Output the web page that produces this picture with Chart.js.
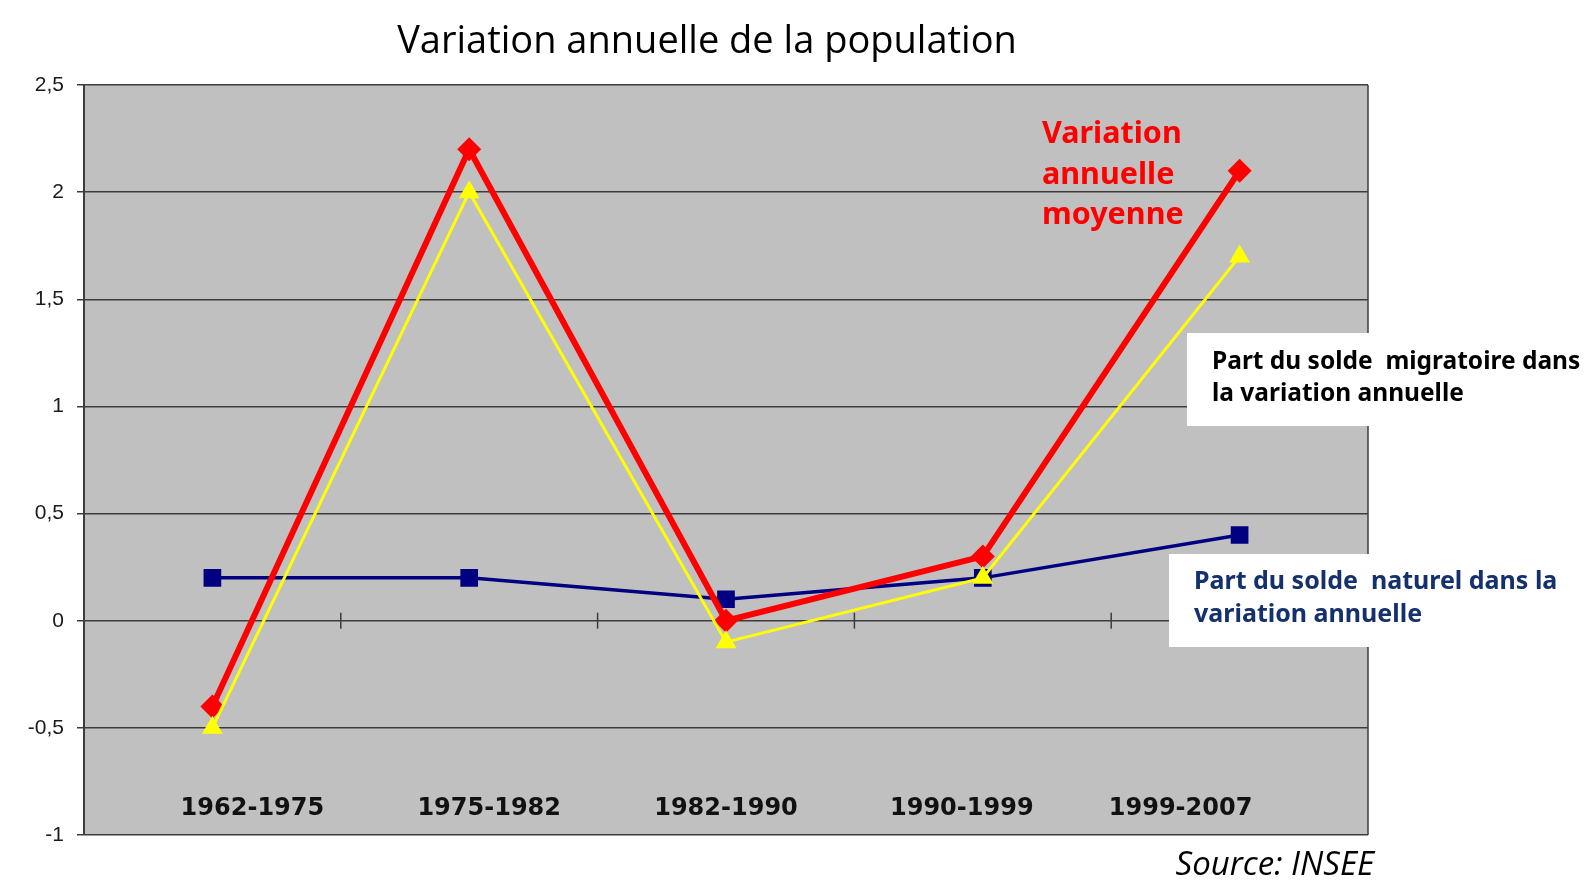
<!DOCTYPE html>
<html>
<head>
<meta charset="utf-8">
<script src="https://cdn.jsdelivr.net/npm/chart.js@4.4.0/dist/chart.umd.min.js"></script>
<style>
    body { margin: 0; background: #fff; }
    canvas { display: block; }
</style>
</head>
<body>
<canvas id="popChart" width="1584" height="882"></canvas>
<script>
// Data
const periods = ['1962-1975', '1975-1982', '1982-1990', '1990-1999', '1999-2007'];
const variationMoyenne = [-0.4, 2.2, 0, 0.3, 2.1];
const soldeMigratoire = [-0.5, 2.0, -0.1, 0.2, 1.7];
const soldeNaturel = [0.2, 0.2, 0.1, 0.2, 0.4];
const yTickValues = [-1, -0.5, 0, 0.5, 1, 1.5, 2, 2.5];

// the period labels sit a bit off the points in the original
const labelShift = [40, 20, 0, -21, -59];

const decorPlugin = {
    id: 'decor',
    beforeDraw(chart) {
        const { ctx, chartArea } = chart;
        ctx.save();
        ctx.fillStyle = '#c0c0c0';
        ctx.fillRect(chartArea.left, chartArea.top, chartArea.right - chartArea.left, chartArea.bottom - chartArea.top);
        ctx.restore();
    },
    beforeDatasetsDraw(chart) {
        const { ctx, chartArea, scales } = chart;
        const x = scales.x, y = scales.y;
        ctx.save();
        ctx.strokeStyle = '#3c3c3c';
        ctx.lineWidth = 1.5;
        // right border of plot area
        ctx.beginPath();
        ctx.moveTo(chartArea.right, chartArea.top);
        ctx.lineTo(chartArea.right, chartArea.bottom);
        ctx.stroke();
        // small marks between categories on the zero line
        const y0 = y.getPixelForValue(0);
        for (let i = 0; i < periods.length - 1; i++) {
            const xb = (x.getPixelForValue(i) + x.getPixelForValue(i + 1)) / 2;
            ctx.beginPath();
            ctx.moveTo(xb, y0 - 8);
            ctx.lineTo(xb, y0 + 8);
            ctx.stroke();
        }
        ctx.restore();
    },
    afterDraw(chart) {
        const { ctx, scales } = chart;
        const x = scales.x;
        ctx.save();

        // period labels
        ctx.font = 'bold 24px "DejaVu Sans"';
        ctx.fillStyle = '#111';
        ctx.textAlign = 'center';
        ctx.textBaseline = 'middle';
        periods.forEach((p, i) => {
            ctx.fillText(p, x.getPixelForValue(i) + labelShift[i], 809);
        });

        // title
        ctx.font = '38px "Open Sans"';
        ctx.fillStyle = '#000';
        ctx.fillText('Variation annuelle de la population', 707, 42);

        // white boxes
        ctx.fillStyle = '#fff';
        ctx.fillRect(1187, 333, 400, 93);
        ctx.fillRect(1169, 554, 202, 93);

        ctx.textAlign = 'left';
        ctx.font = 'bold 24.5px "Noto Sans"';
        ctx.fillStyle = '#000';
        ctx.fillText('Part du solde  migratoire dans', 1212, 362);
        ctx.fillText('la variation annuelle', 1212, 394);

        ctx.font = 'bold 25px "Noto Sans"';
        ctx.fillStyle = '#14306e';
        ctx.fillText('Part du solde  naturel dans la', 1194, 582);
        ctx.fillText('variation annuelle', 1194, 615);

        ctx.font = 'bold 30.5px "Noto Sans"';
        ctx.fillStyle = '#ff0000';
        ctx.fillText('Variation', 1042, 134);
        ctx.fillText('annuelle', 1042, 175);
        ctx.fillText('moyenne', 1042, 215);

        // source
        ctx.font = 'italic 33px "Open Sans"';
        ctx.fillStyle = '#000';
        ctx.textAlign = 'right';
        ctx.fillText('Source: INSEE', 1374, 866);

        ctx.restore();
    }
};

const ctx = document.getElementById('popChart');

const popChart = new Chart(ctx, {
    type: 'line',
    data: {
        labels: periods,
        datasets: [{
            label: 'Variation annuelle moyenne',
            data: variationMoyenne,
            borderColor: '#ff0000',
            backgroundColor: '#ff0000',
            borderWidth: 6,
            pointStyle: 'rectRot',
            pointRadius: 12,
            pointBorderWidth: 0,
            order: 1
        }, {
            label: 'Part du solde migratoire dans la variation annuelle',
            data: soldeMigratoire,
            borderColor: '#ffff00',
            backgroundColor: '#ffff00',
            borderWidth: 3,
            pointStyle: 'triangle',
            pointRadius: 12,
            pointBorderWidth: 0,
            order: 0
        }, {
            label: 'Part du solde naturel dans la variation annuelle',
            data: soldeNaturel,
            borderColor: '#000080',
            backgroundColor: '#000080',
            borderWidth: 3.5,
            pointStyle: 'rect',
            pointRadius: 12.5,
            pointBorderWidth: 0,
            order: 2
        }]
    },
    options: {
        responsive: false,
        animation: false,
        tension: 0,
        layout: {
            padding: { top: 85, bottom: 47, left: 0, right: 216 }
        },
        plugins: {
            legend: { display: false },
            title: { display: false },
            tooltip: { enabled: false }
        },
        scales: {
            x: {
                display: false,
                offset: true
            },
            y: {
                min: -1,
                max: 2.5,
                afterFit: (scale) => { scale.width = 84; },
                afterBuildTicks: (scale) => {
                    scale.ticks = yTickValues.map(v => ({ value: v }));
                },
                grid: {
                    color: '#3c3c3c',
                    lineWidth: 1.5,
                    tickLength: 7
                },
                border: { color: '#3c3c3c', width: 2 },
                ticks: {
                    padding: 13,
                    color: '#1a1a1a',
                    font: { family: '"Liberation Sans"', size: 21 },
                    callback: (v) => String(v).replace('.', ',')
                }
            }
        }
    },
    plugins: [decorPlugin]
});
</script>
</body>
</html>
